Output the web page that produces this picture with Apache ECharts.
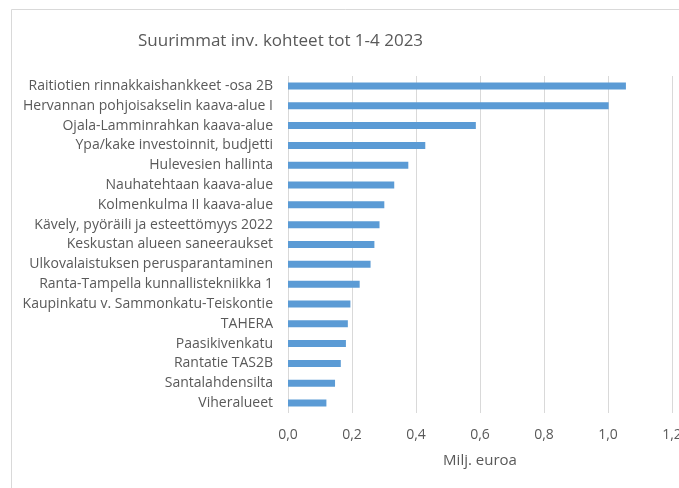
<!DOCTYPE html>
<html>
<head>
<meta charset="utf-8">
<title>Suurimmat inv. kohteet</title>
<script src="https://cdn.jsdelivr.net/npm/echarts@6/dist/echarts.min.js"></script>
<style>
  html, body { margin: 0; padding: 0; background: #fff; }
  #chart { width: 679px; height: 488px; }
</style>
</head>
<body>
<div id="chart"></div>
<script>
// kohteet ylhäältä alas
var kohteet = [
    'Raitiotien rinnakkaishankkeet -osa 2B',
    'Hervannan pohjoisakselin kaava-alue I',
    'Ojala-Lamminrahkan kaava-alue',
    'Ypa/kake investoinnit, budjetti',
    'Hulevesien hallinta',
    'Nauhatehtaan kaava-alue',
    'Kolmenkulma II kaava-alue',
    'Kävely, pyöräili ja esteettömyys 2022',
    'Keskustan alueen saneeraukset',
    'Ulkovalaistuksen perusparantaminen',
    'Ranta-Tampella kunnallistekniikka 1',
    'Kaupinkatu v. Sammonkatu-Teiskontie',
    'TAHERA',
    'Paasikivenkatu',
    'Rantatie TAS2B',
    'Santalahdensilta',
    'Viheralueet'
];
// milj. euroa
var arvot = [1.056, 1.002, 0.587, 0.429, 0.376, 0.332, 0.301, 0.286, 0.270, 0.258, 0.224, 0.195, 0.187, 0.181, 0.165, 0.147, 0.120];
var xTicks = [0, 0.2, 0.4, 0.6, 0.8, 1.0, 1.2];

var txt = '#595959';
var font = 'Open Sans';

var myChart = echarts.init(document.getElementById('chart'));
var option = {
    backgroundColor: '#fff',
    animation: false,
    title: {
        text: 'Suurimmat inv. kohteet tot 1-4 2023',
        left: 133,
        top: 28,
        textStyle: { color: txt, fontFamily: font, fontSize: 17, fontWeight: 'normal' }
    },
    graphic: [{
        type: 'rect',
        shape: { x: 11.5, y: 9.5, width: 700, height: 500 },
        style: { fill: 'none', stroke: '#d9d9d9', lineWidth: 1 },
        silent: true
    }],
    grid: { left: 288, right: 7, top: 76, bottom: 75, containLabel: false, outerBoundsMode: 'none' },
    xAxis: {
        type: 'value',
        min: xTicks[0],
        max: xTicks[xTicks.length - 1],
        interval: 0.2,
        name: 'Milj. euroa',
        nameLocation: 'middle',
        nameGap: 40,
        nameTextStyle: { color: txt, fontFamily: font, fontSize: 15 },
        axisLine: { show: false },
        axisTick: { show: false },
        axisLabel: {
            color: txt, fontFamily: font, fontSize: 14, margin: 15,
            formatter: function (v) { return v.toFixed(1).replace('.', ','); }
        },
        splitLine: { lineStyle: { color: '#d9d9d9', width: 1 } }
    },
    yAxis: {
        type: 'category',
        inverse: true,
        data: kohteet,
        axisLine: { show: false },
        axisTick: { show: false },
        axisLabel: { color: txt, fontFamily: font, fontSize: 14, margin: 15 }
    },
    series: [{
        type: 'bar',
        data: arvot,
        barWidth: 7,
        itemStyle: { color: '#5b9bd5' }
    }]
};
myChart.setOption(option);
</script>
</body>
</html>
